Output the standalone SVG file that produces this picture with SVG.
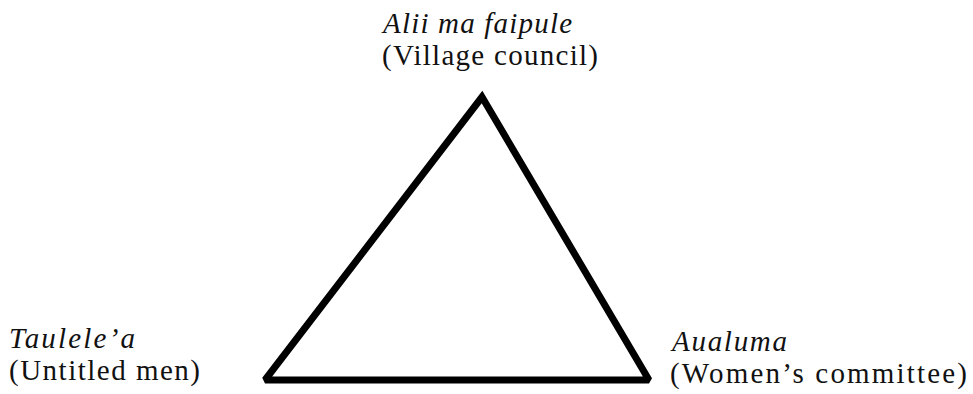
<svg xmlns="http://www.w3.org/2000/svg" width="973" height="394" viewBox="0 0 973 394">
<style>
text{font-family:'Liberation Serif',serif;font-size:29px;fill:#111}
.it{font-style:italic}
</style>
<rect width="973" height="394" fill="#fff"/>
<g id="connectors">
<path d="M482,97 L265,380 L649,380 Z" fill="none" stroke="#000" stroke-width="7" stroke-linejoin="miter" stroke-miterlimit="2"/>
</g>
<g id="node-council">
<text class="it" x="383" y="33" textLength="189" lengthAdjust="spacing">Alii ma faipule</text>
<text x="382" y="65" textLength="216" lengthAdjust="spacing">(Village council)</text>
</g>
<g id="node-untitled">
<text class="it" x="9" y="348" textLength="126" lengthAdjust="spacing">Taulele’a</text>
<text x="9" y="380" textLength="191" lengthAdjust="spacing">(Untitled men)</text>
</g>
<g id="node-women">
<text class="it" x="672" y="351" textLength="115" lengthAdjust="spacing">Aualuma</text>
<text x="670" y="383" textLength="297" lengthAdjust="spacing">(Women’s committee)</text>
</g>
</svg>
